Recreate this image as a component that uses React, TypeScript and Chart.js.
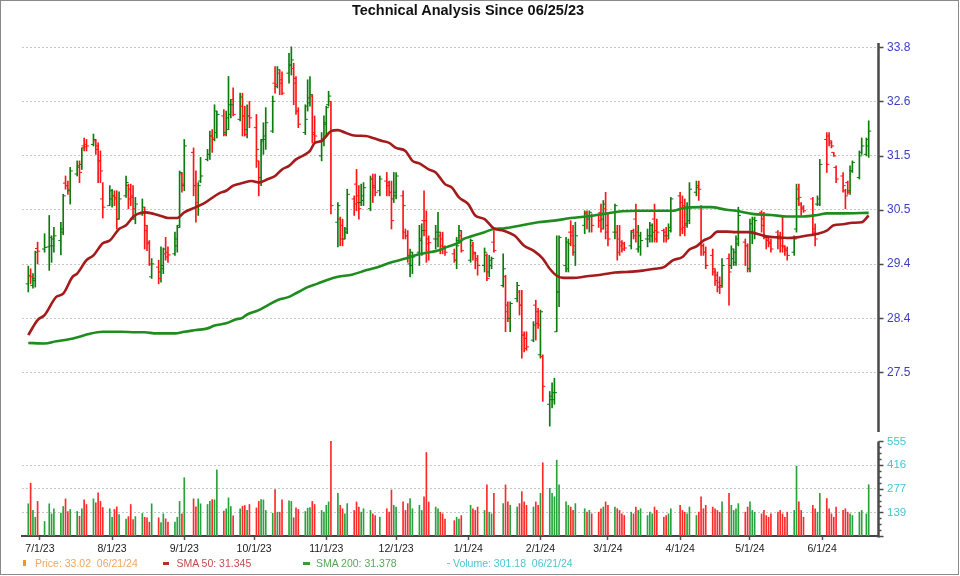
import React, { useEffect, useRef } from "react";
import { Chart, registerables } from "chart.js";

Chart.register(...registerables);

// ---------- calendar / categories ----------
const DAY0 = "2023-06-25"; // x = 0
const FIRST_DAY = "2023-06-26";
const LAST_DAY = "2024-06-21";
const HOLIDAYS = [
  "2023-07-04", "2023-09-04", "2023-11-23", "2023-12-25", "2024-01-01",
  "2024-01-15", "2024-02-19", "2024-03-29", "2024-05-27", "2024-06-19",
];
const MONTH_TICK_DATES = [
  "2023-07-01", "2023-08-01", "2023-09-01", "2023-10-01", "2023-11-01", "2023-12-01",
  "2024-01-01", "2024-02-01", "2024-03-01", "2024-04-01", "2024-05-01", "2024-06-01",
];
const MONTH_TICK_LABELS = [
  "7/1/23", "8/1/23", "9/1/23", "10/1/23", "11/1/23", "12/1/23",
  "1/1/24", "2/1/24", "3/1/24", "4/1/24", "5/1/24", "6/1/24",
];
const X_MIN = -1.7;
const X_MAX = 366;

// ---------- axis ticks ----------
const PRICE_TICKS = [27.5, 28.461, 29.457, 30.487, 31.554, 32.658, 33.8];
const PRICE_TICK_LABELS = ["27.5", "28.4", "29.4", "30.5", "31.5", "32.6", "33.8"];
const PRICE_MIN = 26.397;
const PRICE_MAX = 33.892;
const VOL_TICKS = [138.75, 277.5, 416.25, 555];
const VOL_TICK_LABELS = ["139", "277", "416", "555"];
const VOL_MAX = 581;

// ---------- daily OHLC (one per trading day) ----------
const OPEN = [
  29.09, 29.24, 29.06, 29.19, 29.75,
  29.74, 29.78, 29.80, 29.80, 29.90, 30.06, 31.01, 30.96, 30.86, 31.19, 31.32, 31.38, 31.75, 31.78, 31.78, 31.85, 31.68, 31.45, 30.70, 30.57,
  30.70, 30.76, 30.73, 30.31, 30.76, 30.96, 30.89, 30.76, 30.31, 30.41, 30.44, 30.09, 29.84, 29.22, 29.40, 29.31, 29.37, 29.65, 29.68, 29.65, 29.80, 30.19, 31.19,
  30.96, 31.62, 30.96, 30.57, 31.05, 31.48, 31.58, 31.95, 31.88, 32.02, 32.36, 32.02, 32.32, 32.39, 32.70, 32.29, 32.56, 32.36, 32.08, 32.36,
  32.12, 31.45, 31.12, 31.88, 31.88, 32.05, 33.04, 32.97, 33.25, 33.11, 33.25, 33.42, 33.35, 33.04, 32.46, 32.02, 32.56, 32.63, 32.77, 32.02, 31.55, 31.88,
  32.19, 32.59, 32.66, 30.25, 30.31, 30.19, 29.93, 30.06, 30.70, 30.99, 30.76, 30.63, 30.67, 30.51, 31.09, 30.96, 30.86, 31.05, 31.02, 30.83, 30.70,
  30.76, 30.76, 30.06, 29.99, 29.46, 29.43, 29.68, 29.90, 30.28, 30.28, 29.93, 29.93, 29.93, 29.99, 29.93, 29.78, 29.65, 29.53, 29.90, 29.99,
  29.53, 29.80, 29.65, 29.53, 29.43, 29.62, 29.31, 29.43, 29.87, 29.06, 29.22, 28.70, 28.46, 28.82, 28.94, 28.70, 28.16, 28.10, 28.07, 28.70, 28.58,
  27.81, 27.78, 26.95, 27.03, 27.03, 28.22, 28.94, 29.43, 29.37, 30.06, 30.06, 29.68, 30.19, 30.44, 30.31, 30.38, 30.38, 30.44, 30.31, 30.51,
  30.19, 30.06, 30.06, 29.93, 29.87, 29.84, 29.80, 30.09, 30.31, 29.74, 29.78, 29.93, 29.93, 29.99, 30.31, 30.09, 30.09, 30.06, 29.99, 30.09,
  30.76, 30.63, 30.57, 30.22, 30.28, 30.83, 30.96, 30.54, 29.80, 29.68, 29.62, 29.31, 29.25, 29.12, 29.06, 29.56, 29.43, 29.56, 29.49, 29.84, 29.87, 29.80,
  29.37, 30.06, 30.06, 30.44, 30.31, 29.96, 29.93, 29.87, 30.06, 29.99, 29.93, 29.78, 29.74, 29.68, 30.12, 30.89, 30.60, 30.54, 30.70, 30.12, 30.60, 30.60,
  31.88, 31.95, 31.81, 31.62, 31.32, 31.15, 30.86, 31.02, 30.86, 31.25, 31.12, 31.62, 31.58, 31.75,
];
const HIGH = [
  29.42, 29.37, 29.28, 29.70, 29.87,
  30.03, 30.38, 29.99, 30.15, 30.25, 30.79, 31.15, 31.05, 31.32, 31.45, 31.45, 31.71, 31.91, 31.88, 31.99, 31.88, 31.81, 31.65, 31.02, 30.96,
  30.89, 30.86, 30.86, 30.84, 31.15, 30.99, 30.99, 30.96, 30.73, 30.70, 30.54, 30.19, 29.90, 29.56, 29.53, 29.78, 29.76, 29.96, 29.78, 30.06, 30.19, 31.25, 31.22,
  31.88, 31.71, 31.25, 31.02, 31.52, 31.68, 32.05, 32.08, 32.59, 32.46, 32.49, 32.46, 33.18, 32.70, 32.94, 32.83, 32.83, 32.56, 32.59, 32.66,
  32.39, 31.45, 31.88, 32.22, 32.53, 32.77, 33.39, 33.39, 33.32, 33.28, 33.67, 33.81, 33.46, 33.18, 32.53, 32.59, 33.11, 33.18, 32.80, 32.36, 32.02, 32.36,
  32.56, 32.87, 32.66, 30.63, 30.35, 30.31, 30.15, 30.89, 30.76, 31.28, 30.96, 30.99, 31.02, 31.15, 31.19, 31.19, 31.15, 31.22, 31.05, 31.05, 31.22,
  31.22, 30.86, 30.12, 30.09, 29.74, 29.68, 30.19, 30.22, 30.86, 30.47, 29.99, 30.19, 30.44, 30.06, 30.06, 29.80, 29.74, 29.96, 30.19, 30.09,
  29.93, 29.87, 29.68, 29.62, 29.76, 29.65, 29.62, 29.59, 30.09, 29.65, 29.25, 28.76, 28.76, 29.12, 28.97, 28.97, 28.22, 28.22, 28.40, 28.79, 28.64,
  28.61, 27.81, 27.17, 27.32, 27.40, 29.99, 29.99, 29.96, 29.93, 30.28, 30.19, 30.25, 30.47, 30.47, 30.47, 30.41, 30.41, 30.60, 30.67, 30.83,
  30.44, 30.60, 30.19, 30.19, 29.90, 29.87, 30.09, 30.12, 30.60, 30.19, 30.06, 30.12, 30.25, 30.22, 30.60, 30.31, 30.12, 30.15, 30.22, 30.73,
  30.83, 30.76, 30.70, 30.63, 31.02, 31.05, 31.05, 30.57, 29.84, 29.78, 29.74, 29.37, 29.31, 29.22, 29.56, 29.65, 29.80, 29.74, 29.99, 30.54, 29.93, 29.84,
  30.31, 30.35, 30.35, 30.47, 30.44, 29.99, 29.96, 29.93, 30.09, 30.06, 30.35, 29.80, 29.78, 29.99, 30.99, 30.99, 30.63, 30.57, 30.73, 30.22, 30.76, 31.48,
  32.02, 32.02, 31.85, 31.62, 31.35, 31.22, 30.89, 31.05, 31.35, 31.45, 31.65, 31.91, 31.91, 32.26,
];
const LOW = [
  28.94, 29.09, 29.01, 29.03, 29.46,
  29.68, 29.34, 29.49, 29.68, 29.63, 30.01, 30.89, 30.79, 30.60, 31.15, 31.02, 31.28, 31.65, 31.65, 31.75, 31.58, 31.02, 31.02, 30.33, 30.57,
  30.54, 30.57, 30.12, 30.31, 30.73, 30.51, 30.57, 30.31, 30.22, 30.38, 29.74, 29.71, 29.43, 29.19, 29.09, 29.12, 29.28, 29.53, 29.49, 29.62, 29.68, 30.15, 30.83,
  30.86, 30.76, 30.25, 30.38, 31.02, 31.45, 31.48, 31.62, 31.85, 31.91, 31.95, 31.95, 32.08, 32.32, 32.36, 32.26, 31.95, 31.95, 31.91, 32.12,
  31.32, 30.76, 30.96, 31.58, 31.68, 32.02, 32.83, 32.94, 32.80, 32.80, 33.04, 33.21, 32.59, 32.39, 32.12, 31.98, 32.46, 32.56, 31.81, 31.81, 31.45, 31.75,
  31.95, 32.56, 30.41, 29.78, 29.80, 29.80, 29.93, 30.03, 30.38, 30.47, 30.31, 30.57, 30.57, 30.47, 30.63, 30.76, 30.76, 30.76, 30.76, 30.12, 30.63,
  30.70, 29.93, 29.93, 29.49, 29.22, 29.28, 29.43, 29.62, 29.99, 29.49, 29.53, 29.74, 29.78, 29.65, 29.65, 29.62, 29.49, 29.37, 29.87, 29.68,
  29.49, 29.53, 29.37, 29.25, 29.31, 29.15, 29.22, 29.37, 29.68, 29.03, 28.22, 28.40, 28.22, 28.76, 28.52, 27.75, 27.86, 27.89, 28.04, 28.07, 28.28,
  27.75, 27.00, 26.58, 26.89, 26.95, 28.22, 28.67, 29.31, 29.31, 29.80, 29.62, 29.43, 30.03, 30.12, 30.06, 30.06, 30.15, 30.06, 30.12, 29.93,
  29.80, 29.93, 29.53, 29.62, 29.68, 29.71, 29.74, 29.93, 29.87, 29.68, 29.62, 29.78, 29.87, 29.87, 29.87, 29.87, 29.87, 29.87, 29.93, 30.06,
  29.99, 30.03, 29.99, 30.15, 30.22, 30.76, 30.67, 29.62, 29.62, 29.37, 29.25, 29.06, 28.94, 28.91, 29.03, 28.70, 29.37, 29.43, 29.43, 29.80, 29.43, 29.31,
  29.31, 29.84, 29.93, 30.06, 29.93, 29.74, 29.78, 29.68, 29.74, 29.68, 29.68, 29.62, 29.53, 29.62, 30.06, 30.57, 30.38, 30.44, 29.99, 29.80, 30.57, 30.57,
  31.22, 31.75, 31.71, 31.54, 31.02, 30.83, 30.51, 30.79, 30.79, 31.22, 31.09, 31.58, 31.55, 31.52,
];
const CLOSE = [
  29.24, 29.22, 29.15, 29.68, 29.70,
  29.77, 29.96, 29.93, 29.99, 30.12, 30.76, 30.96, 30.88, 31.25, 31.35, 31.22, 31.71, 31.73, 31.75, 31.88, 31.75, 31.45, 31.25, 30.54, 30.86,
  30.76, 30.70, 30.31, 30.70, 31.02, 30.70, 30.73, 30.51, 30.60, 30.54, 30.19, 29.87, 29.46, 29.46, 29.19, 29.43, 29.74, 29.59, 29.63, 29.93, 30.15, 31.22, 30.99,
  31.75, 30.96, 30.63, 30.96, 31.15, 31.58, 31.95, 31.91, 32.46, 32.39, 31.98, 32.08, 32.59, 32.59, 32.39, 32.75, 32.36, 31.98, 32.36, 32.32,
  31.68, 31.12, 31.85, 31.95, 32.22, 32.66, 33.01, 33.32, 33.04, 32.83, 33.42, 33.53, 33.14, 32.46, 32.19, 32.29, 32.73, 32.80, 31.98, 31.95, 31.88, 32.22,
  32.53, 32.77, 30.57, 30.57, 29.93, 29.93, 30.12, 30.79, 30.60, 30.63, 30.51, 30.76, 30.92, 31.09, 30.92, 30.83, 31.09, 30.96, 30.83, 30.28, 30.83,
  31.15, 30.57, 29.99, 29.62, 29.68, 29.59, 29.93, 30.09, 30.09, 29.84, 29.86, 30.06, 30.06, 29.80, 29.78, 29.68, 29.53, 29.80, 30.09, 29.71,
  29.90, 29.68, 29.56, 29.43, 29.68, 29.19, 29.53, 29.56, 29.71, 29.37, 28.58, 28.46, 28.73, 29.06, 28.70, 28.16, 27.92, 27.95, 28.34, 28.37, 28.34,
  28.58, 27.26, 27.09, 27.15, 27.15, 28.94, 29.96, 29.87, 29.84, 29.99, 29.80, 29.99, 30.41, 30.38, 30.44, 30.19, 30.28, 30.12, 30.60, 30.06,
  29.93, 30.57, 29.68, 29.80, 29.74, 29.76, 30.06, 29.99, 30.06, 29.99, 29.90, 29.99, 30.19, 30.06, 29.93, 30.06, 29.99, 29.93, 30.15, 30.70,
  30.12, 30.15, 30.19, 30.54, 30.89, 30.92, 30.89, 29.80, 29.68, 29.43, 29.37, 29.15, 29.03, 29.03, 29.43, 29.31, 29.74, 29.68, 29.93, 30.38, 29.80, 29.37,
  30.22, 30.31, 30.28, 30.19, 29.99, 29.90, 29.84, 29.74, 29.93, 29.80, 29.80, 29.71, 29.62, 29.93, 30.70, 30.73, 30.51, 30.47, 30.06, 29.93, 30.70, 31.38,
  31.38, 31.85, 31.75, 31.55, 31.09, 30.96, 30.76, 30.83, 31.25, 31.42, 31.55, 31.75, 31.88, 32.05,
];
const VOLUME = [
  189, 310, 150, 110, 203,
  85, 189, 130, 160, 134, 173, 218, 144, 156, 144, 116, 160, 212, 185, 218, 195, 254, 203, 167, 160,
  110, 156, 171, 126, 99, 114, 185, 97, 114, 132, 110, 107, 81, 189, 107, 79, 130, 101, 81, 81, 110, 203, 130,
  342, 218, 171, 218, 189, 185, 203, 214, 212, 389, 146, 160, 224, 173, 118, 160, 175, 179, 150, 185,
  165, 203, 214, 212, 150, 134, 273, 140, 140, 212, 206, 203, 107, 165, 156, 144, 163, 167, 203, 185, 150, 140,
  180, 200, 555, 250, 180, 160, 130, 190, 150, 200, 170, 140, 160, 150, 130, 120, 110, 160, 140, 270, 180,
  170, 200, 150, 190, 220, 160, 180, 150, 230, 490, 200, 170, 160, 140, 130, 100, 90, 110, 100, 120,
  180, 160, 150, 170, 150, 300, 140, 130, 250, 190, 300, 200, 180, 170, 190, 260, 200, 180, 170, 200, 180,
  250, 430, 280, 250, 230, 445, 300, 200, 180, 170, 150, 190, 160, 140, 150, 130, 140, 160, 170, 200,
  180, 170, 160, 150, 130, 120, 140, 130, 170, 150, 160, 120, 140, 130, 170, 150, 110, 120, 130, 160,
  180, 150, 140, 130, 170, 120, 140, 230, 160, 180, 170, 160, 150, 140, 200, 250, 180, 150, 160, 190, 140, 170,
  200, 150, 140, 130, 150, 120, 110, 130, 140, 150, 130, 110, 140, 150, 410, 200, 150, 110, 180, 160, 140, 250,
  220, 160, 130, 110, 170, 150, 160, 140, 130, 120, 140, 150, 130, 301,
];

// ---------- moving averages (read at sample days, x = days since 6/25/23) ----------
const SMA50_DAY = [1, 5, 8, 13, 16, 20, 22, 26, 29, 33, 36, 40, 43, 46, 48, 51, 55, 58, 61, 65, 68, 73, 77, 83, 86, 89, 93, 97, 100, 104, 107, 110, 113, 116, 120, 122, 124, 127, 129, 131, 134, 137, 141, 146, 149, 153, 156, 159, 163, 166, 169, 173, 176, 180, 183, 186, 190, 193, 197, 201, 205, 210, 214, 218, 222, 225, 228, 231, 235, 241, 247, 253, 258, 264, 270, 274, 278, 282, 285, 288, 291, 294, 297, 301, 305, 310, 314, 318, 323, 327, 331, 335, 340, 344, 347, 351, 355, 359, 362];
const SMA50 = [28.16, 28.43, 28.52, 28.85, 28.91, 29.22, 29.28, 29.53, 29.62, 29.85, 29.90, 30.12, 30.19, 30.35, 30.41, 30.44, 30.41, 30.37, 30.33, 30.33, 30.44, 30.54, 30.63, 30.81, 30.86, 30.96, 31.01, 31.05, 31.02, 31.09, 31.15, 31.28, 31.35, 31.48, 31.58, 31.65, 31.81, 31.85, 31.95, 32.05, 32.07, 32.02, 31.96, 31.95, 31.91, 31.85, 31.81, 31.71, 31.65, 31.45, 31.40, 31.28, 31.22, 30.99, 30.92, 30.73, 30.60, 30.38, 30.31, 30.13, 30.09, 29.99, 29.80, 29.71, 29.56, 29.37, 29.24, 29.20, 29.20, 29.23, 29.26, 29.30, 29.31, 29.33, 29.37, 29.40, 29.53, 29.59, 29.73, 29.79, 29.90, 29.96, 30.07, 30.07, 30.06, 30.06, 30.03, 29.98, 29.96, 29.95, 29.96, 29.99, 30.03, 30.09, 30.19, 30.21, 30.24, 30.25, 30.38];
const SMA200_DAY = [1, 8, 13, 18, 23, 27, 33, 41, 47, 51, 56, 64, 68, 73, 78, 81, 86, 90, 93, 95, 100, 104, 108, 113, 117, 121, 125, 130, 134, 140, 146, 151, 157, 163, 167, 171, 177, 181, 186, 188, 192, 197, 201, 205, 213, 220, 227, 234, 241, 248, 256, 263, 270, 278, 282, 290, 294, 301, 305, 312, 320, 327, 334, 340, 344, 351, 362];
const SMA200 = [28.02, 28.01, 28.05, 28.08, 28.13, 28.18, 28.22, 28.22, 28.21, 28.21, 28.19, 28.19, 28.22, 28.25, 28.28, 28.33, 28.37, 28.44, 28.47, 28.53, 28.61, 28.70, 28.79, 28.85, 28.94, 29.03, 29.09, 29.17, 29.22, 29.26, 29.34, 29.40, 29.49, 29.56, 29.62, 29.66, 29.71, 29.78, 29.86, 29.93, 29.99, 30.06, 30.12, 30.13, 30.19, 30.25, 30.28, 30.33, 30.36, 30.41, 30.46, 30.47, 30.47, 30.47, 30.52, 30.54, 30.54, 30.49, 30.47, 30.41, 30.39, 30.36, 30.36, 30.39, 30.42, 30.42, 30.43];

// ---------- legend texts ----------
const LEGEND_PRICE = "Price: 33.02\u00a0\u00a006/21/24";
const LEGEND_SMA50 = "SMA 50: 31.345";
const LEGEND_SMA200 = "SMA 200: 31.378";
const LEGEND_VOLUME = "Volume: 301.18\u00a0\u00a006/21/24";
const TITLE = "Technical Analysis Since 06/25/23";

// ---------- styles ----------
const FONT = '"Liberation Sans", Arial, Helvetica, sans-serif';
const UP = "#0c7c0c";
const DOWN = "#ff1616";
const VOL_UP = "#27a23c";
const VOL_DOWN = "#ff2a2a";
const SMA50_COLOR = "#a31b1b";
const SMA200_COLOR = "#1f8c1f";

const MS_DAY = 86400000;
const dayOf = (iso: string) => Math.round((Date.parse(iso) - Date.parse(DAY0)) / MS_DAY);

function tradingDays(): number[] {
  const out: number[] = [];
  const a = dayOf(FIRST_DAY);
  const b = dayOf(LAST_DAY);
  for (let d = a; d <= b; d++) {
    const t = new Date(Date.parse(DAY0) + d * MS_DAY);
    const wd = t.getUTCDay();
    if (wd === 0 || wd === 6) continue;
    if (HOLIDAYS.includes(t.toISOString().slice(0, 10))) continue;
    out.push(d);
  }
  return out;
}

const PRICE_DS = 2;

export default function App() {
  const ref = useRef<HTMLCanvasElement>(null);

  useEffect(() => {
    const DAYS = tradingDays();
    const MONTH_DAYS = MONTH_TICK_DATES.map(dayOf);
    const isUp = (i: number) => CLOSE[i] >= OPEN[i];

    const ohlcTicks = {
      id: "ohlcTicks",
      afterDatasetDraw(chart: any, args: any) {
        if (args.index !== PRICE_DS) return;
        const xs = chart.scales.x;
        const ys = chart.scales.y;
        const ctx = chart.ctx;
        ctx.save();
        ctx.lineWidth = 1;
        DAYS.forEach((d, i) => {
          const x = xs.getPixelForValue(d);
          const yo = ys.getPixelForValue(OPEN[i]);
          const yc = ys.getPixelForValue(CLOSE[i]);
          ctx.strokeStyle = isUp(i) ? UP : DOWN;
          ctx.beginPath();
          ctx.moveTo(x - 2.6, yo);
          ctx.lineTo(x, yo);
          ctx.moveTo(x, yc);
          ctx.lineTo(x + 2.6, yc);
          ctx.stroke();
        });
        ctx.restore();
      },
    };

    const axisLines = {
      id: "axisLines",
      afterDraw(chart: any) {
        const { ctx, chartArea } = chart;
        const ys = chart.scales.y;
        const yv = chart.scales.yv;
        const ax = chartArea.right + 0.5;
        ctx.save();
        ctx.strokeStyle = "#4a4a4a";
        ctx.lineWidth = 2.5;
        ctx.beginPath();
        ctx.moveTo(ax, ys.top);
        ctx.lineTo(ax, ys.bottom - 5);
        ctx.moveTo(ax, yv.getPixelForValue(VOL_TICKS[VOL_TICKS.length - 1]));
        ctx.lineTo(ax, yv.bottom + 1.5);
        ctx.stroke();
        ctx.lineWidth = 1.5;
        ctx.beginPath();
        PRICE_TICKS.forEach((v) => {
          const y = Math.round(ys.getPixelForValue(v)) + 0.5;
          ctx.moveTo(ax, y);
          ctx.lineTo(ax + 5, y);
        });
        const step = VOL_TICKS[0] / 4;
        for (let k = 0; k * step <= VOL_TICKS[VOL_TICKS.length - 1] + 0.01; k++) {
          const y = Math.round(yv.getPixelForValue(k * step)) + 0.5;
          ctx.moveTo(ax, y);
          ctx.lineTo(ax + (k % 4 === 0 ? 5 : 3), y);
        }
        ctx.stroke();
        ctx.restore();
      },
    };

    const chart = new Chart(ref.current as HTMLCanvasElement, {
      type: "bar",
      data: {
        datasets: [
          {
            type: "line",
            label: "SMA 50",
            data: SMA50_DAY.map((d, i) => ({ x: d, y: SMA50[i] })),
            yAxisID: "y",
            borderColor: SMA50_COLOR,
            borderWidth: 2.6,
            pointRadius: 0,
            cubicInterpolationMode: "monotone",
            order: 0,
          },
          {
            type: "line",
            label: "SMA 200",
            data: SMA200_DAY.map((d, i) => ({ x: d, y: SMA200[i] })),
            yAxisID: "y",
            borderColor: SMA200_COLOR,
            borderWidth: 2.6,
            pointRadius: 0,
            cubicInterpolationMode: "monotone",
            order: 1,
          },
          {
            type: "bar",
            label: "Price",
            data: DAYS.map((d, i) => ({ x: d, y: [LOW[i], HIGH[i]] })),
            yAxisID: "y",
            backgroundColor: DAYS.map((_, i) => (isUp(i) ? UP : DOWN)),
            barThickness: 1,
            grouped: false,
            borderWidth: 0,
            order: 2,
          },
          {
            type: "bar",
            label: "Volume",
            data: DAYS.map((d, i) => ({ x: d, y: VOLUME[i] })),
            yAxisID: "yv",
            backgroundColor: DAYS.map((_, i) => (isUp(i) ? VOL_UP : VOL_DOWN)),
            barThickness: 1,
            grouped: false,
            borderWidth: 0,
            order: 3,
          },
        ],
      } as any,
      options: {
        responsive: false,
        animation: false,
        devicePixelRatio: 1,
        layout: { padding: { top: 43, left: 22, right: 22, bottom: 10 } },
        plugins: {
          legend: { display: false },
          title: { display: false },
          tooltip: { enabled: false },
        },
        scales: {
          x: {
            type: "linear",
            min: X_MIN,
            max: X_MAX,
            offset: false,
            afterBuildTicks: (s: any) => {
              s.ticks = MONTH_DAYS.map((v) => ({ value: v }));
            },
            afterFit: (s: any) => {
              s.height = 30;
            },
            ticks: {
              autoSkip: false,
              maxRotation: 0,
              padding: 3,
              color: "#1a1a1a",
              font: { family: FONT, size: 10.5 },
              callback: (_v: any, i: number) => MONTH_TICK_LABELS[i],
            },
            grid: {
              display: true,
              drawOnChartArea: false,
              drawTicks: true,
              tickLength: 4,
              tickColor: "#555555",
              tickWidth: 1.5,
              offset: false,
            },
            border: { display: true, color: "#444444", width: 2 },
          },
          y: {
            type: "logarithmic",
            position: "right",
            stack: "main",
            stackWeight: 394,
            min: PRICE_MIN,
            max: PRICE_MAX,
            offset: false,
            afterBuildTicks: (s: any) => {
              s.ticks = PRICE_TICKS.map((v) => ({ value: v }));
            },
            afterFit: (s: any) => {
              s.width = 60;
            },
            ticks: {
              autoSkip: false,
              padding: 9,
              color: "#3d3dc8",
              font: { family: FONT, size: 12 },
              callback: (_v: any, i: number) => PRICE_TICK_LABELS[i],
            },
            grid: { drawTicks: false, color: "#c6c6c6", lineWidth: 1 },
            border: { display: false, dash: [2, 2] },
          },
          yv: {
            type: "linear",
            position: "right",
            stack: "main",
            stackWeight: 99,
            min: 0,
            max: VOL_MAX,
            offset: false,
            afterBuildTicks: (s: any) => {
              s.ticks = VOL_TICKS.map((v) => ({ value: v }));
            },
            afterFit: (s: any) => {
              s.width = 60;
            },
            ticks: {
              autoSkip: false,
              padding: 9,
              color: "#48c4d4",
              font: { family: FONT, size: 11.5 },
              callback: (_v: any, i: number) => VOL_TICK_LABELS[i],
            },
            grid: {
              drawTicks: false,
              lineWidth: 1,
              color: (c: any) =>
                c.tick && c.tick.value === VOL_TICKS[VOL_TICKS.length - 1] ? "rgba(0,0,0,0)" : "#c6c6c6",
            },
            border: { display: false, dash: [2, 2] },
          },
        },
      } as any,
      plugins: [ohlcTicks, axisLines],
    });
    return () => chart.destroy();
  }, []);

  const legendText = (left: number, color: string, text: string) => (
    <div
      style={{
        position: "absolute",
        left,
        top: 556,
        fontSize: 10.5,
        lineHeight: "14px",
        color,
        whiteSpace: "nowrap",
      }}
    >
      {text}
    </div>
  );
  const marker = (left: number, top: number, w: number, h: number, color: string) => (
    <div style={{ position: "absolute", left, top, width: w, height: h, background: color }} />
  );

  return (
    <div
      style={{
        position: "absolute",
        left: 0,
        top: 0,
        width: 960,
        height: 576,
        background: "#ffffff",
        fontFamily: FONT,
        overflow: "hidden",
      }}
    >
      <canvas
        ref={ref}
        width={960}
        height={576}
        style={{ position: "absolute", left: 0, top: 0, width: 960, height: 576 }}
      />
      <div
        style={{
          position: "absolute",
          left: 468,
          top: 1,
          transform: "translateX(-50%)",
          fontSize: 14.5,
          fontWeight: "bold",
          lineHeight: "18px",
          color: "#111111",
          whiteSpace: "nowrap",
        }}
      >
        {TITLE}
      </div>
      {marker(23, 560, 3, 6, "#f7941e")}
      {legendText(35, "#f4a65c", LEGEND_PRICE)}
      {marker(163, 562, 6, 2.5, "#c02a2a")}
      {legendText(176.5, "#c64a4a", LEGEND_SMA50)}
      {marker(303, 562, 7, 2.5, "#3a9a3a")}
      {legendText(316, "#56a856", LEGEND_SMA200)}
      {marker(447, 562.5, 3, 1.5, "#6ccfdc")}
      {legendText(453, "#4cc4d4", LEGEND_VOLUME)}
      <div
        style={{
          position: "absolute",
          left: 0,
          top: 0,
          width: 959,
          height: 575,
          boxSizing: "border-box",
          border: "1px solid #8a8a8a",
          pointerEvents: "none",
        }}
      />
    </div>
  );
}
